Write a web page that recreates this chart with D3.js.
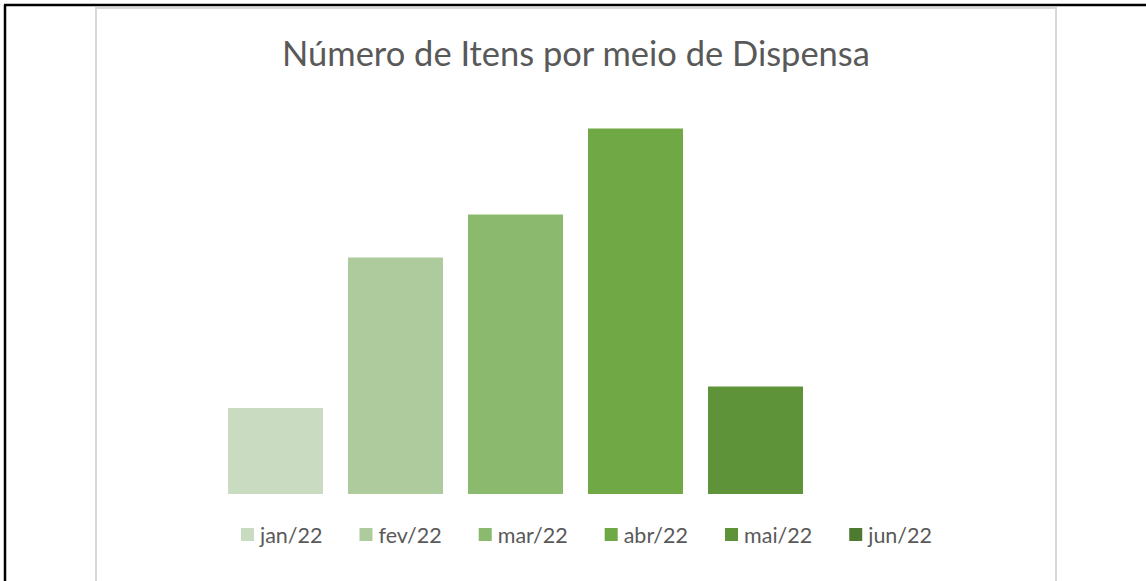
<!DOCTYPE html>
<html><head><meta charset="utf-8">
<script src="https://cdn.jsdelivr.net/npm/d3@7/dist/d3.min.js"></script>
<style>html,body{margin:0;padding:0;background:#fff;}svg{display:block;}</style>
</head><body>
<svg id="c" width="1146" height="581"></svg>
<script>
const categories = ["jan/22","fev/22","mar/22","abr/22","mai/22","jun/22"];
const values = [8, 22, 26, 34, 10, 0];
const colors = ["#C9DBC0","#ADCB9D","#8BBA6F","#70A845","#5E933A","#4E7B31"];
const title = "Número de Itens por meio de Dispensa";

const svg = d3.select("#c");
const FONT = "Lato, 'Open Sans', sans-serif";

// outer black frame (left and top)
svg.append("line").attr("x1",5).attr("y1",5).attr("x2",5).attr("y2",581).attr("stroke","#000").attr("stroke-width",2.5);
svg.append("line").attr("x1",4).attr("y1",5).attr("x2",1146).attr("y2",5).attr("stroke","#000").attr("stroke-width",2.5);
// chart area border
svg.append("rect").attr("x",96).attr("y",8).attr("width",960).attr("height",590)
  .attr("fill","#fff").attr("stroke","#D9D9D9").attr("stroke-width",2);

const x = d3.scaleBand().domain(categories).range([215.5, 935.5]).paddingInner(25/120).paddingOuter(12.5/120);
const y = d3.scaleLinear().domain([0, 40]).range([494, 64]);

svg.append("g").selectAll("rect").data(categories).join("rect")
  .attr("x", d => x(d))
  .attr("width", x.bandwidth())
  .attr("y", (d,i) => y(values[i]))
  .attr("height", (d,i) => y(0) - y(values[i]))
  .attr("fill", (d,i) => colors[i]);

// title
const t = svg.append("text").attr("x", 576).attr("y", 66).attr("text-anchor","middle")
  .attr("font-family", FONT).attr("font-size", 32).attr("fill","#595959").text(title);
const tw = t.node().getComputedTextLength();
t.attr("font-size", 32 * 588 / tw);

// legend
const lg = svg.append("g");
let cx = 0;
categories.forEach((c,i) => {
  const g = lg.append("g").attr("transform", `translate(${cx},0)`);
  g.append("rect").attr("x",0).attr("y",-7).attr("width",13).attr("height",13).attr("fill",colors[i]);
  const tx = g.append("text").attr("x",19).attr("y",7.5).attr("font-family",FONT).attr("font-size",21.5)
    .attr("fill","#595959").text(c);
  const w = tx.node().getComputedTextLength();
  cx += 19 + w + 37;
});
const total = cx - 37;
lg.attr("transform", `translate(${586.5 - total/2 }, 535)`);
</script>
</body></html>
